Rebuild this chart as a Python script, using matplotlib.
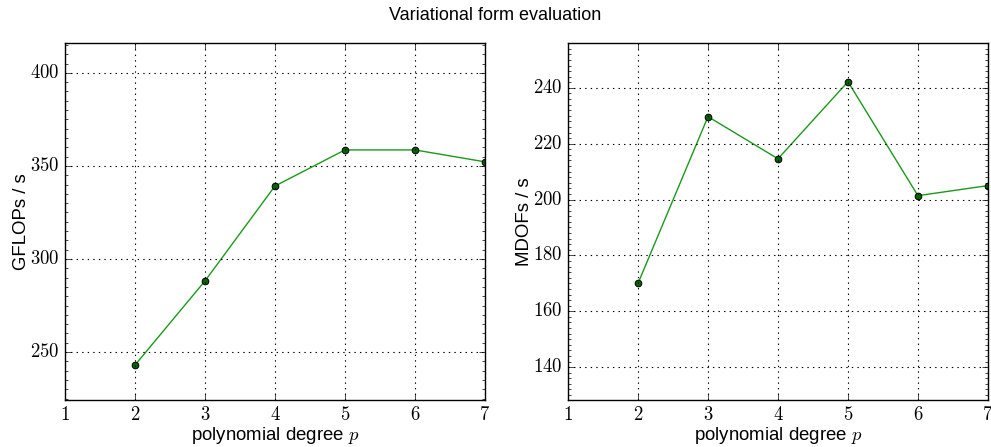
import matplotlib
matplotlib.use("Agg")
import matplotlib.pyplot as plt
from matplotlib.ticker import AutoMinorLocator

degrees = [2, 3, 4, 5, 6, 7]
gflops = [243.0, 288.2, 339.2, 358.6, 358.6, 352.2]
mdofs = [170.0, 229.7, 214.6, 242.2, 201.4, 205.0]

plt.style.use("classic")
plt.rcParams["font.family"] = ["Liberation Sans", "DejaVu Sans"]
plt.rcParams["mathtext.fontset"] = "cm"

fig = plt.figure(figsize=(9.91, 4.47), dpi=100)
fig.patch.set_facecolor("white")
ax1 = fig.add_axes([0.0656, 0.105, 0.4237, 0.799])
ax2 = fig.add_axes([0.5732, 0.105, 0.4237, 0.799])

panels = [
    (ax1, gflops, "GFLOPs / s", (224.2, 416.1), [250, 300, 350, 400]),
    (ax2, mdofs, "MDOFs / s", (128.2, 256.1), [140, 160, 180, 200, 220, 240]),
]

for ax, vals, ylabel, ylim, yticks in panels:
    ax.plot(degrees, vals, "-", color="#1a9a1a", lw=1.0,
            marker="o", ms=4.8, mfc="darkgreen", mec="k", mew=0.7)
    ax.set_xlim(1, 7)
    ax.set_ylim(*ylim)
    ax.set_xticks(range(1, 8))
    ax.set_xticklabels([f"${d}$" for d in range(1, 8)])
    ax.set_yticks(yticks)
    ax.set_yticklabels([f"${t}$" for t in yticks])
    ax.yaxis.set_minor_locator(AutoMinorLocator(10))
    ax.tick_params(which="minor", length=2)
    ax.tick_params(which="major", labelsize=13.5, colors="k", pad=4)
    ax.grid(True, linestyle=":", color="k", lw=0.8)
    ax.set_xlabel("polynomial degree $p$", fontsize=13.4, labelpad=1)
    ax.set_ylabel(ylabel, fontsize=13.4, labelpad=0)

fig.suptitle("Variational form evaluation", fontsize=13, y=0.985)
fig.savefig("out.png", dpi=100, facecolor="white")
